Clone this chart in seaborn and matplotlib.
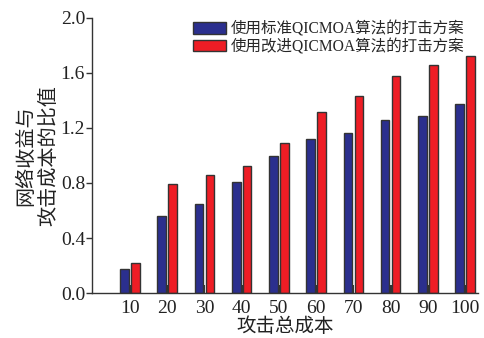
import matplotlib
matplotlib.use("Agg")
import matplotlib.pyplot as plt
import seaborn as sns
import pandas as pd

# Attack total cost levels and the ratio of network gain to attack cost
costs = ["10", "20", "30", "40", "50", "60", "70", "80", "90", "100"]
standard = [0.172, 0.56, 0.645, 0.81, 0.996, 1.123, 1.164, 1.261, 1.285, 1.372]
improved = [0.218, 0.793, 0.856, 0.926, 1.094, 1.316, 1.43, 1.576, 1.656, 1.72]
series_names = ["使用标准QICMOA算法的打击方案", "使用改进QICMOA算法的打击方案"]
y_ticks = [0.0, 0.4, 0.8, 1.2, 1.6, 2.0]

df = pd.DataFrame({
    "cost": costs * 2,
    "ratio": standard + improved,
    "scheme": [series_names[0]] * len(costs) + [series_names[1]] * len(costs),
})

sns.set_theme(style="white")
fonts = ["Liberation Serif", "Noto Sans CJK SC"]
plt.rcParams["font.family"] = fonts
plt.rcParams["axes.unicode_minus"] = False

fig = plt.figure(figsize=(4.84, 3.38), dpi=100)
ax = fig.add_axes([0.19, 0.133, 0.798, 0.814])

sns.barplot(
    data=df, x="cost", y="ratio", hue="scheme", order=costs,
    hue_order=series_names, palette=["#2B2F8E", "#EE1D25"],
    width=0.586, gap=0.215, edgecolor="#333333", linewidth=1.0,
    saturation=1.0, ax=ax,
)

ax.set_xlim(-1.02, 9.35)
ax.set_ylim(0, 2.0)
ax.set_yticks(y_ticks)
ax.set_yticklabels([f"{v:.1f}" for v in y_ticks])

for side in ("top", "right"):
    ax.spines[side].set_visible(False)
for side in ("left", "bottom"):
    ax.spines[side].set_color("#333333")
    ax.spines[side].set_linewidth(1.0)

ax.tick_params(axis="y", direction="out", length=4, width=1, color="#333333",
               labelsize=14, labelcolor="#222222", pad=1, left=True)
ax.tick_params(axis="x", direction="in", length=6, width=1.5, color="#333333",
               labelsize=14, labelcolor="#222222", pad=5, bottom=True)

ax.set_xlabel("攻击总成本", fontsize=14, color="#222222", labelpad=0)
ax.set_ylabel("网络收益与\n攻击成本的比值", fontsize=14.5, color="#222222",
              labelpad=1, linespacing=1.3)

ax.legend(loc="upper right", bbox_to_anchor=(0.972, 0.955),
          bbox_transform=fig.transFigure, frameon=False, fontsize=11.2,
          handlelength=2.1, handleheight=0.75, handletextpad=0.3,
          labelspacing=0.1, borderaxespad=0.0, title=None)

fig.savefig("out.png", dpi=100)
